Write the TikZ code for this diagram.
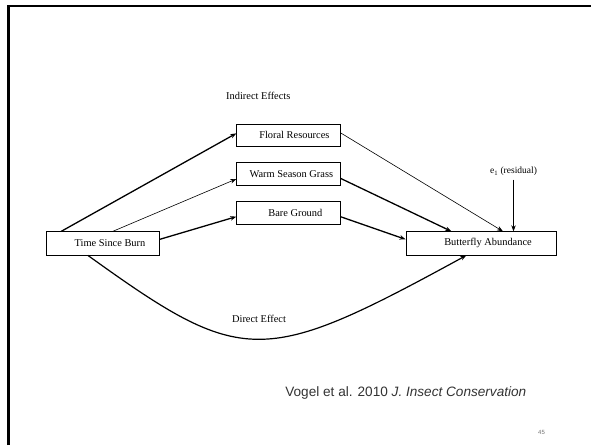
\documentclass[tikz,border=0pt]{standalone}
\usepackage{fontspec}
\setmainfont{Liberation Serif}
\newfontfamily\arialfont{Liberation Sans}
\usetikzlibrary{arrows.meta}
\tikzset{
  box/.style={draw=black, line width=0.8pt, minimum height=23.3pt, inner sep=0pt, font=\fontsize{10.4}{12}\selectfont},
  thickarrow/.style={line width=1.3pt, -{Stealth[length=6pt,width=4.5pt]}},
  thinarrow/.style={line width=0.6pt, -{Stealth[length=6pt,width=4.5pt]}},
  lbl/.style={inner sep=0pt, font=\fontsize{10.4}{12}\selectfont},
}
\begin{document}
\begin{tikzpicture}[x=1pt,y=-1pt]
\useasboundingbox (0,0) rectangle (591,445);
% slide frame
\draw[line width=2.7pt] (8.5,445) -- (8.5,6) -- (591,6);

\node[box, minimum width=112.6pt] (tsb) at (103,243.35) {\kern14pt Time Since Burn};
\node[box, minimum width=103.3pt, minimum height=22.7pt] (floral) at (288.35,135.35) {\kern12pt Floral Resources};
\node[box, minimum width=103.3pt] (warm) at (288.35,174) {\kern6pt Warm Season Grass};
\node[box, minimum width=103.3pt] (bare) at (288.35,212.65) {\kern14pt Bare Ground};
\node[box, minimum width=150pt] (bfly) at (481,243.35) {\kern14pt Butterfly Abundance};

\node[lbl] (ind) at (258.3,96) {Indirect Effects};
\node[lbl, font=\fontsize{9.5}{11}\selectfont] (res) at (513.5,171.7) {e\textsubscript{1} (residual)};
\node[lbl] (dir) at (259,319.3) {Direct Effect};
\node[inner sep=0pt, font=\arialfont\fontsize{13.6}{16}\selectfont, text=black!80] (cite) at (405.8,392.7) {Vogel et al. 2010 \textit{J. Insect Conservation}};
\node[inner sep=0pt, font=\arialfont\fontsize{6}{7}\selectfont, text=black!55] (pg) at (541.5,432) {45};

% indirect paths
\draw[thickarrow] ([xshift=15pt]tsb.north west) -- ([yshift=2pt]floral.west);
\draw[thinarrow] ([xshift=66.6pt]tsb.north west) -- ([yshift=-5pt]warm.west);
\draw[thickarrow] ([yshift=4pt]tsb.east) -- ([yshift=-4pt]bare.west);
\draw[thinarrow] ([yshift=2.6pt]floral.east) -- ([xshift=97.3pt]bfly.north west);
\draw[thickarrow] ([yshift=-4.3pt]warm.east) -- ([xshift=45.7pt]bfly.north west);
\draw[thickarrow] ([yshift=-4pt]bare.east) -- ([yshift=4pt]bfly.west);
% residual
\draw[thinarrow] ([yshift=-8pt]res.center) -- (res.center |- bfly.north);
% direct effect
\draw[line width=1.2pt, -{Stealth[length=6pt,width=4.5pt]}] ([xshift=41.6pt]tsb.south west) .. controls (243,367) and (262,367) .. ([xshift=60.7pt]bfly.south west);
\end{tikzpicture}
\end{document}
